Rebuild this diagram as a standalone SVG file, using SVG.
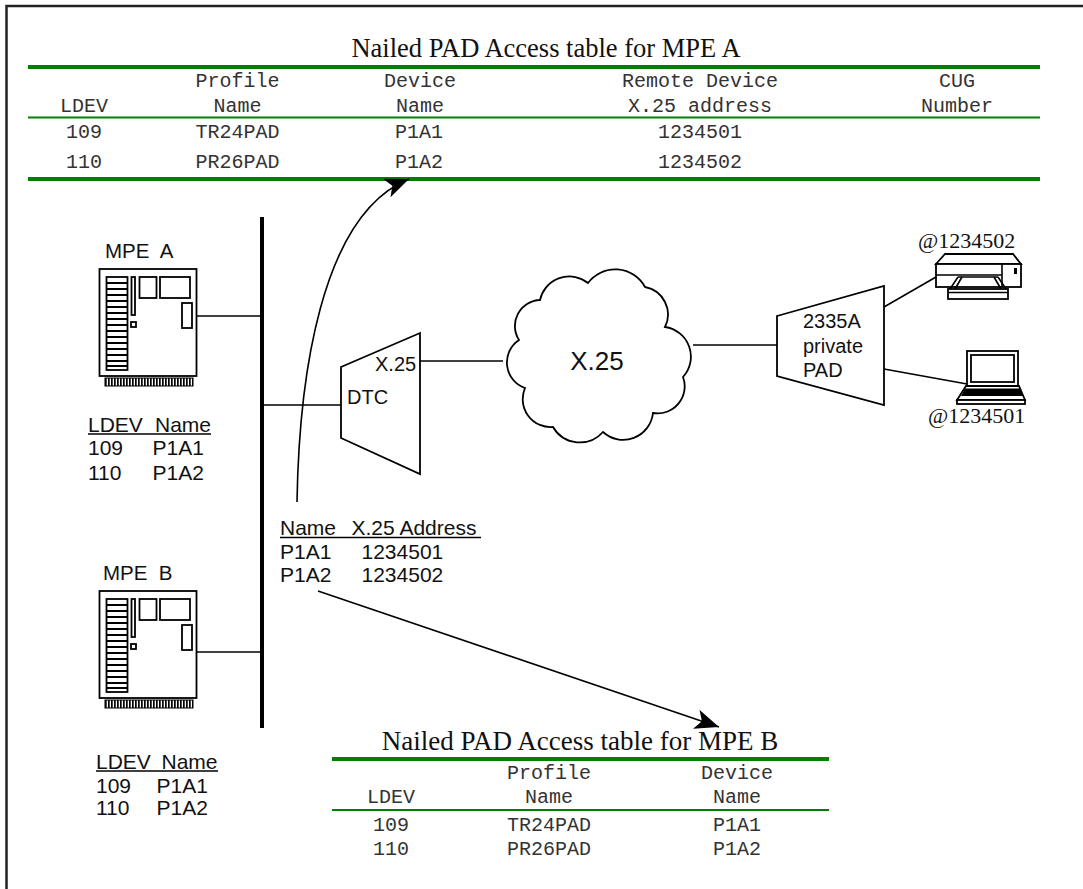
<svg xmlns="http://www.w3.org/2000/svg" xmlns:xlink="http://www.w3.org/1999/xlink" width="1083" height="889" viewBox="0 0 1083 889">
<style>
.serif{font-family:"Liberation Serif","Times New Roman",serif;fill:#111}
.mono{font-family:"Liberation Mono","Courier New",monospace;font-size:20px;fill:#333;text-anchor:middle}
.sans{font-family:"Liberation Sans",Arial,Helvetica,sans-serif;fill:#111}
.ln{stroke:#000;stroke-width:1.6;fill:none}
.g4{stroke:#008000;stroke-width:4}
.g2{stroke:#008000;stroke-width:2}
.ol{stroke:#000;stroke-width:1.8;fill:#fff}
.ul{stroke:#000;stroke-width:1.6}
</style>
<defs>
<marker id="ah" markerUnits="userSpaceOnUse" markerWidth="26" markerHeight="22" refX="24" refY="10" orient="auto">
<path d="M0,0 L24,10 L0,20 L6,10 Z" fill="#000"/>
</marker>
<g id="computer">
<rect x="0" y="0" width="97" height="107" class="ol" stroke-width="2"/>
<rect x="7" y="8" width="21" height="93" class="ol"/>
<path d="M7,14H28M7,20H28M7,26H28M7,32H28M7,38H28M7,44H28M7,50H28M7,56H28M7,62H28M7,68H28M7,74H28M7,80H28M7,86H28M7,92H28M7,97H28" stroke="#000" stroke-width="2.2"/>
<rect x="32" y="8" width="3.5" height="38" class="ol" stroke-width="1.5"/>
<rect x="31.5" y="53" width="5" height="5" class="ol" stroke-width="1.5"/>
<rect x="40" y="8" width="17" height="21" class="ol"/>
<rect x="60.5" y="8" width="30" height="21" class="ol"/>
<rect x="82.5" y="34" width="10" height="25" class="ol"/>
<line x1="5.5" y1="113" x2="93.5" y2="113" stroke="#000" stroke-width="8" stroke-dasharray="1.7 1.3"/>
<rect x="5.5" y="109" width="88" height="8" fill="none" stroke="#000" stroke-width="1"/>
</g>
</defs>
<rect width="1083" height="889" fill="#fff"/>
<path d="M6.5,889 V6 H1083" fill="none" stroke="#222" stroke-width="2.5"/>

<g id="table-mpe-a">
<text x="546" y="57" class="serif" font-size="26.5" text-anchor="middle">Nailed PAD Access table for MPE A</text>
<line x1="28" y1="67" x2="1040" y2="67" class="g4"/>
<line x1="28" y1="117.5" x2="1040" y2="117.5" class="g2"/>
<line x1="28" y1="179" x2="1040" y2="179" class="g4"/>
<text x="237.5" y="87" class="mono">Profile</text>
<text x="420" y="87" class="mono">Device</text>
<text x="700" y="87" class="mono">Remote Device</text>
<text x="957" y="87" class="mono">CUG</text>
<text x="84" y="111.5" class="mono">LDEV</text>
<text x="237.5" y="111.5" class="mono">Name</text>
<text x="420" y="111.5" class="mono">Name</text>
<text x="700" y="111.5" class="mono">X.25 address</text>
<text x="957" y="111.5" class="mono">Number</text>
<text x="84" y="138" class="mono">109</text>
<text x="237.5" y="138" class="mono">TR24PAD</text>
<text x="419" y="138" class="mono">P1A1</text>
<text x="700" y="138" class="mono">1234501</text>
<text x="84" y="168" class="mono">110</text>
<text x="237.5" y="168" class="mono">PR26PAD</text>
<text x="419" y="168" class="mono">P1A2</text>
<text x="700" y="168" class="mono">1234502</text>
</g>

<g id="table-mpe-b">
<text x="580" y="750" class="serif" font-size="27" text-anchor="middle">Nailed PAD Access table for MPE B</text>
<line x1="332" y1="759" x2="829" y2="759" class="g4" stroke-width="3.5"/>
<line x1="332" y1="810" x2="829" y2="810" class="g2"/>
<text x="549" y="779" class="mono">Profile</text>
<text x="737" y="779" class="mono">Device</text>
<text x="391" y="803" class="mono">LDEV</text>
<text x="549" y="803" class="mono">Name</text>
<text x="737" y="803" class="mono">Name</text>
<text x="391" y="831" class="mono">109</text>
<text x="549" y="831" class="mono">TR24PAD</text>
<text x="737" y="831" class="mono">P1A1</text>
<text x="391" y="855" class="mono">110</text>
<text x="549" y="855" class="mono">PR26PAD</text>
<text x="737" y="855" class="mono">P1A2</text>
</g>

<g id="mpe-a">
<text x="105" y="258" class="sans" font-size="20.5" xml:space="preserve">MPE  A</text>
<use xlink:href="#computer" transform="translate(99.5,269)"/>
<text x="88" y="431.5" class="sans" font-size="21">LDEV</text>
<text x="155" y="431.5" class="sans" font-size="21">Name</text>
<line x1="88" y1="434" x2="211" y2="434" class="ul"/>
<text x="88" y="455" class="sans" font-size="21">109</text>
<text x="152.5" y="455" class="sans" font-size="21">P1A1</text>
<text x="88" y="480" class="sans" font-size="21">110</text>
<text x="152.5" y="480" class="sans" font-size="21">P1A2</text>
</g>

<g id="mpe-b">
<text x="103" y="580" class="sans" font-size="20.5" xml:space="preserve">MPE  B</text>
<use xlink:href="#computer" transform="translate(99.5,591)"/>
<text x="96" y="769" class="sans" font-size="21">LDEV</text>
<text x="161.5" y="769" class="sans" font-size="21">Name</text>
<line x1="96" y1="771" x2="218" y2="771" class="ul"/>
<text x="96" y="792.5" class="sans" font-size="21">109</text>
<text x="156.5" y="792.5" class="sans" font-size="21">P1A1</text>
<text x="96" y="815" class="sans" font-size="21">110</text>
<text x="156.5" y="815" class="sans" font-size="21">P1A2</text>
</g>

<g id="dtc">
<path d="M341,367 L420,333 L420,474 L341,438 Z" class="ol" stroke-width="1.6"/>
<text x="375" y="370.5" class="sans" font-size="20">X.25</text>
<text x="347" y="404" class="sans" font-size="20">DTC</text>
</g>

<g id="address-list">
<text x="280" y="535" class="sans" font-size="21">Name</text>
<text x="351.5" y="535" class="sans" font-size="21">X.25 Address</text>
<line x1="280" y1="537.5" x2="481" y2="537.5" class="ul"/>
<text x="280" y="558.5" class="sans" font-size="21">P1A1</text>
<text x="361.5" y="558.5" class="sans" font-size="21">1234501</text>
<text x="280" y="582" class="sans" font-size="21">P1A2</text>
<text x="361.5" y="582" class="sans" font-size="21">1234502</text>
</g>

<g id="x25-network">
<path d="M519,340 A26,26 0 0 1 540,300 A30,30 0 0 1 588,283 A34,34 0 0 1 645,287 A28,28 0 0 1 665,327 A30,30 0 0 1 683,377 A27,27 0 0 1 653,413 A30,30 0 0 1 603,432 A31,31 0 0 1 553,427 A28,28 0 0 1 525,388 A27,27 0 0 1 519,340 Z" class="ol" stroke-width="1.5"/>
<text x="597" y="370" class="sans" font-size="26" text-anchor="middle">X.25</text>
</g>

<g id="pad">
<path d="M777,316 L884,286 L884,405 L777,376 Z" class="ol" stroke-width="1.8"/>
<text x="803" y="328" class="sans" font-size="20">2335A</text>
<text x="803" y="352.5" class="sans" font-size="20">private</text>
<text x="803" y="376.5" class="sans" font-size="20">PAD</text>
</g>

<g id="printer">
<text x="918" y="248" class="serif" font-size="22">@1234502</text>
<path d="M936,264 L945,254 L1013,254 L1021,264 Z" class="ol" stroke-width="2"/>
<rect x="936" y="264" width="85" height="23" class="ol" stroke-width="2"/>
<path d="M936,275 H1002 M1002,264 V287" class="ln" stroke-width="1.5"/>
<rect x="1014" y="268" width="3" height="6" fill="#000"/>
<path d="M958,277 H998" class="ln" stroke-width="1.5"/>
<path d="M950,289 L958,277 M955,289 L962,277 M1006,289 L998,277 M1001,289 L994,277" class="ln" stroke-width="2"/>
<rect x="948" y="289" width="60" height="10" class="ol" stroke-width="2"/>
<path d="M948,292.5 H1008" class="ln" stroke-width="1.2"/>
</g>

<g id="terminal">
<rect x="967" y="351" width="51" height="35" class="ol" stroke-width="2"/>
<rect x="971" y="355" width="43" height="27" class="ol" stroke-width="1.5"/>
<path d="M966,386 L1019,386 L1025,400 L957,400 Z" class="ol" stroke-width="2"/>
<path d="M965,388.5 L1020,388.5 L1023,396 L961,396 Z" fill="#000"/>
<rect x="957" y="400" width="68" height="4" class="ol" stroke-width="1.5"/>
<text x="928" y="423" class="serif" font-size="22">@1234501</text>
</g>

<g id="connectors">
<line x1="262" y1="217" x2="262" y2="728" stroke="#000" stroke-width="4"/>
<path d="M197,316 H262" class="ln"/>
<path d="M197,652 H262" class="ln"/>
<path d="M262,405 H341" class="ln"/>
<path d="M420,361 H503" class="ln"/>
<path d="M693,345 H777" class="ln"/>
<path d="M884,307 L936,277" class="ln" stroke-width="2"/>
<path d="M884,369 L967,384" class="ln" stroke-width="2"/>
<path d="M297,502 C299,380 320,215 409,179" class="ln" stroke-width="2" marker-end="url(#ah)"/>
<path d="M318,591 L719,727" class="ln" stroke-width="2" marker-end="url(#ah)"/>
</g>
</svg>
